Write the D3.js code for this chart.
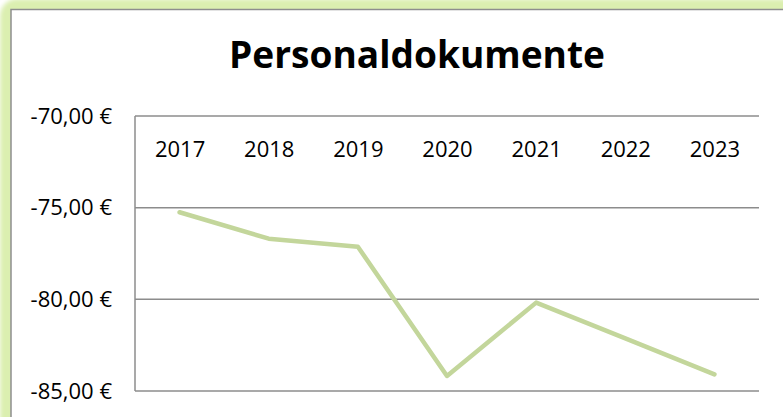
<!DOCTYPE html>
<html>
<head>
<meta charset="utf-8">
<script src="https://cdn.jsdelivr.net/npm/d3@7"></script>
<style>
  html, body { margin: 0; padding: 0; background: #ffffff; }
  svg { display: block; }
</style>
</head>
<body>
<svg id="chart" width="783" height="417"></svg>
<script>
// ---- data ----
const title = "Personaldokumente";
const years = ["2017", "2018", "2019", "2020", "2021", "2022", "2023"];
const values = [-75.25, -76.69, -77.13, -84.18, -80.18, -82.13, -84.09];
const yTicks = [-70, -75, -80, -85];
const yDomain = [-85, -70];

// ---- layout ----
const W = 783, H = 417;
const plot = { left: 135, right: 759, top: 116, bottom: 391 };
const fontFamily = "'Open Sans', 'Noto Sans', sans-serif";

const svg = d3.select("#chart");
const defs = svg.append("defs");
const blur = defs.append("filter").attr("id", "glow")
  .attr("x", "-10%").attr("y", "-10%").attr("width", "120%").attr("height", "120%");
blur.append("feGaussianBlur").attr("stdDeviation", 2);

// outer glow
svg.append("rect").attr("x", 0).attr("y", 0).attr("width", W).attr("height", H).attr("fill", "#ffffff");
svg.append("rect")
  .attr("x", 11).attr("y", 10).attr("width", 900).attr("height", 600)
  .attr("rx", 6)
  .attr("fill", "none")
  .attr("stroke", "#dbefb0")
  .attr("stroke-width", 22)
  .attr("filter", "url(#glow)");
// chart area
svg.append("rect")
  .attr("x", 11).attr("y", 9.5).attr("width", 900).attr("height", 600)
  .attr("fill", "#ffffff")
  .attr("stroke", "#8e8e8e")
  .attr("stroke-width", 1.5);

// ---- scales ----
const x = d3.scalePoint().domain(years).range([plot.left, plot.right]).padding(0.5);
const y = d3.scaleLinear().domain(yDomain).range([plot.bottom, plot.top]);

const locale = d3.formatLocale({
  decimal: ",", thousands: ".", grouping: [3], currency: ["", " €"], minus: "-"
});
const fmt = locale.format("$.2f");

// gridlines
svg.append("g").selectAll("line").data(yTicks).join("line")
  .attr("x1", plot.left).attr("x2", plot.right)
  .attr("y1", d => y(d)).attr("y2", d => y(d))
  .attr("stroke", "#8c8c8c").attr("stroke-width", 1.5);

// y axis line
svg.append("line")
  .attr("x1", plot.left).attr("x2", plot.left)
  .attr("y1", y(yDomain[1])).attr("y2", y(yDomain[0]))
  .attr("stroke", "#8c8c8c").attr("stroke-width", 1.5);

// y axis labels
const yAxis = d3.axisLeft(y).tickValues(yTicks).tickFormat(fmt).tickSize(0).tickPadding(23);
const gy = svg.append("g").attr("transform", `translate(${plot.left},0)`).call(yAxis);
gy.select(".domain").remove();
gy.selectAll("text")
  .attr("font-family", fontFamily).attr("font-size", 22).attr("fill", "#000")
  .attr("dy", "0.33em");

// x axis labels (at top)
const xAxis = d3.axisTop(x).tickSize(0).tickPadding(0);
const gx = svg.append("g").attr("transform", `translate(0,${plot.top})`).call(xAxis);
gx.select(".domain").remove();
gx.selectAll("text")
  .attr("font-family", fontFamily).attr("font-size", 22).attr("fill", "#000")
  .attr("y", 40.5).attr("dy", 0);

// line
const line = d3.line().x((d, i) => x(years[i])).y(d => y(d));
svg.append("path")
  .datum(values)
  .attr("d", line)
  .attr("fill", "none")
  .attr("stroke", "#c3d69b")
  .attr("stroke-width", 4.5)
  .attr("stroke-linecap", "round")
  .attr("stroke-linejoin", "round");

// title
const t = svg.append("text")
  .attr("x", 417).attr("y", 67.7)
  .attr("text-anchor", "middle")
  .attr("font-family", fontFamily)
  .attr("font-weight", "bold")
  .attr("font-size", 36)
  .attr("fill", "#000")
  .text(title);
const len = t.node().getComputedTextLength();
t.attr("font-size", 36 * 376 / len);
</script>
</body>
</html>
